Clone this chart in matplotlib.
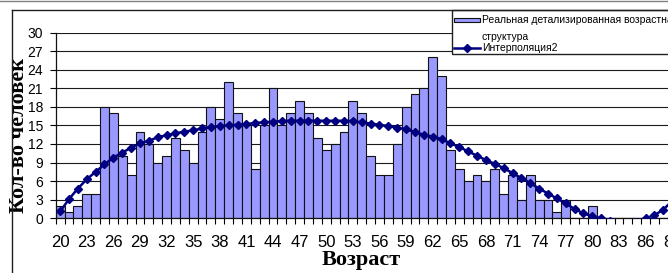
import matplotlib
matplotlib.use('Agg')
import matplotlib.pyplot as plt
from matplotlib import font_manager
from matplotlib.patches import Rectangle
from matplotlib.lines import Line2D

# data
ages = list(range(20, 90))
real_counts = [2, 1, 2, 4, 4, 18, 17, 10, 7, 14,
               12, 9, 10, 13, 11, 9, 14, 18, 16, 22,
               17, 15, 8, 15, 21, 15, 17, 19, 17, 13,
               11, 12, 14, 19, 17, 10, 7, 7, 12, 18,
               20, 21, 26, 23, 11, 8, 6, 7, 6, 8,
               4, 7, 3, 7, 3, 3, 1, 3, 0, 0,
               2, 0, 0, 0, 0, 0, 0, 0, 0, 0]
interp = [1.1, 3.1, 4.8, 6.3, 7.5, 8.7, 9.8, 10.6, 11.4, 12.1,
          12.5, 13.1, 13.4, 13.7, 14.0, 14.2, 14.5, 14.7, 14.9, 15.0,
          15.1, 15.2, 15.4, 15.5, 15.6, 15.7, 15.75, 15.75, 15.75, 15.75,
          15.75, 15.75, 15.75, 15.7, 15.5, 15.3, 15.1, 14.9, 14.6, 14.4,
          13.9, 13.5, 13.2, 12.8, 12.1, 11.5, 10.8, 10.1, 9.4, 8.8,
          8.1, 7.3, 6.5, 5.7, 4.8, 4.0, 3.2, 2.4, 1.5, 0.8,
          0.3, 0.0, -0.4, -0.7, -0.8, -0.6, 0.0, 0.5, 1.4, 2.8]
label_ages = ages[::3]
y_ticks = list(range(0, 31, 3))
legend_labels = ['Реальная детализированная возрастная', 'структура', 'Интерполяция2']
x_title = 'Возраст'
y_title = 'Кол-во человек'

names = {f.name for f in font_manager.fontManager.ttflist}
narrow = 'Liberation Sans Narrow' if 'Liberation Sans Narrow' in names else 'Liberation Sans'

W, H = 668, 273
def fx(x):
    return x / W
def fy(y):
    return 1 - y / H

bar_color = '#9999ff'
line_color = '#000080'

fig = plt.figure(figsize=(W / 100, H / 100), dpi=100)
fig.patch.set_facecolor('white')

step = 8.87
ax = fig.add_axes([fx(55.7), fy(218.3), len(ages) * step / W, (218.3 - 32.5) / H])
ax.bar(ages, real_counts, width=1.0, color=bar_color, edgecolor='#111111', linewidth=0.8, zorder=2)
ax.plot(ages, interp, color=line_color, lw=1.8, marker='D', ms=4.5, zorder=3)

ax.set_xlim(ages[0] - 0.5, ages[-1] + 0.5)
ax.set_ylim(0, 30)
ax.set_yticks(y_ticks)
ax.set_yticklabels([str(v) for v in y_ticks], fontfamily=narrow, fontsize=10)
ax.yaxis.grid(True, color='#1a1a1a', lw=0.8)
ax.set_axisbelow(True)

ax.set_xticks([a - 0.5 for a in ages] + [ages[-1] + 0.5])
ax.set_xticks(label_ages, minor=True)
ax.set_xticklabels([str(a) for a in label_ages], minor=True, fontfamily=narrow, fontsize=12)
ax.tick_params(axis='x', which='major', length=4, width=0.8, labelbottom=False)
ax.tick_params(axis='x', which='minor', length=0, pad=12)
ax.tick_params(axis='y', length=4, width=0.8, pad=5)

for s in ['top', 'right']:
    ax.spines[s].set_visible(False)
for s in ['left', 'bottom']:
    ax.spines[s].set_linewidth(0.9)
    ax.spines[s].set_color('#111111')

ax.set_xlabel(x_title, fontfamily='Liberation Serif', fontweight='bold', fontsize=16, va='center')
ax.xaxis.set_label_coords((361 - 55.7) / (len(ages) * step), (218.3 - 260) / (218.3 - 32.5))
ax.set_ylabel(y_title, fontfamily='Liberation Serif', fontweight='bold', fontsize=16, va='center')
ax.yaxis.set_label_coords((19 - 55.7) / (len(ages) * step), (218.3 - 135) / (218.3 - 32.5))

# chart frame
fig.add_artist(Line2D([fx(0), fx(W)], [fy(0.5), fy(0.5)], color='#808080', lw=1))
fig.add_artist(Line2D([fx(11.7), fx(W)], [fy(10), fy(10)], color='#202020', lw=1))
fig.add_artist(Line2D([fx(11.7), fx(11.7)], [fy(10), fy(H)], color='#202020', lw=1))

# legend
fig.add_artist(Rectangle((fx(451.7), fy(54.3)), (720 - 451.7) / W, (54.3 - 10) / H,
                         transform=fig.transFigure, facecolor='white', edgecolor='#202020', lw=1))
fig.add_artist(Rectangle((fx(454), fy(21.7)), 26 / W, 4 / H, transform=fig.transFigure,
                         facecolor=bar_color, edgecolor='#111111', lw=0.8))
fig.add_artist(Line2D([fx(454), fx(467), fx(480)], [fy(48)] * 3, color=line_color, lw=1.8,
                      marker='D', ms=4, markevery=[1]))
for text, yy in zip(legend_labels, [20, 36.5, 48]):
    fig.text(fx(482), fy(yy), text, fontfamily='Liberation Sans', fontsize=7.5, va='center', ha='left')

fig.savefig('out.png', dpi=100, facecolor='white')
